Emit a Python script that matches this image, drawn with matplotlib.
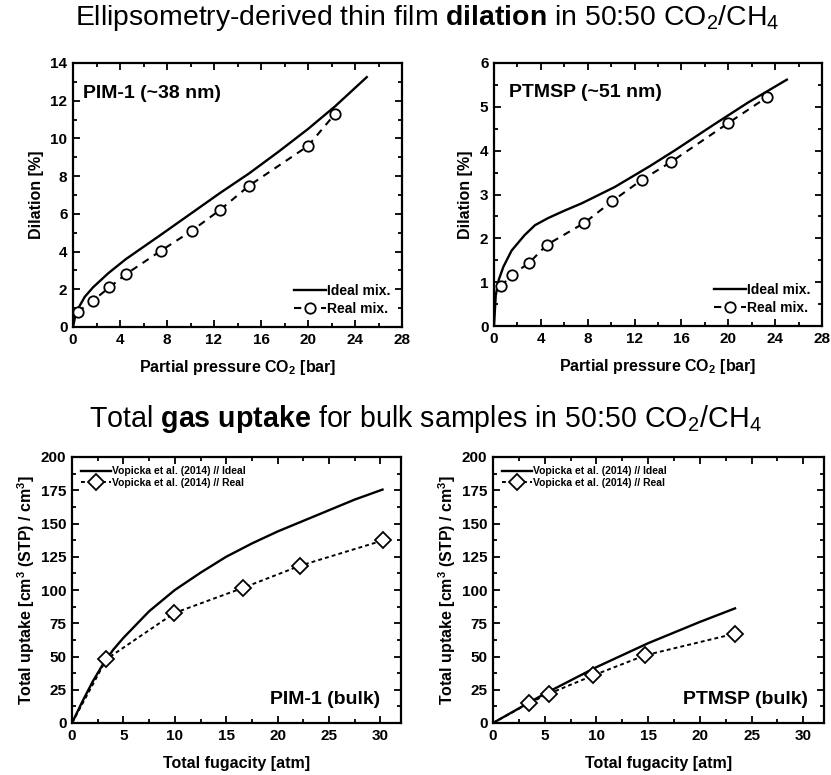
import matplotlib
matplotlib.use('Agg')
import matplotlib.pyplot as plt
from matplotlib.ticker import MultipleLocator

plt.rcParams['font.family'] = ['Liberation Sans', 'DejaVu Sans']
plt.rcParams['mathtext.fontset'] = 'custom'
plt.rcParams['mathtext.rm'] = 'Liberation Sans'
plt.rcParams['mathtext.bf'] = 'Liberation Sans:bold'
plt.rcParams['mathtext.it'] = 'Liberation Sans:italic'

# PIM-1 thin film (~38 nm)
pim_ideal_x = [0, 0.2, 0.5, 1, 1.7, 3, 4.5, 7.5, 10, 12.5, 15, 17.5, 20, 22.3, 25]
pim_ideal_y = [0, 0.6, 1.05, 1.6, 2.1, 2.85, 3.6, 4.9, 6.0, 7.1, 8.15, 9.3, 10.5, 11.7, 13.25]
pim_real_x = [0.4, 1.7, 3.1, 4.5, 7.5, 10.1, 12.5, 15.0, 20.0, 22.3]
pim_real_y = [0.8, 1.4, 2.1, 2.8, 4.05, 5.1, 6.2, 7.5, 9.6, 11.3]

# PTMSP thin film (~51 nm)
ptmsp_ideal_x = [0, 0.15, 0.4, 0.8, 1.5, 2.6, 3.5, 4.6, 6, 7.5, 10.3, 13.2, 15.4, 18.8, 21.7, 25]
ptmsp_ideal_y = [0, 0.7, 1.05, 1.35, 1.72, 2.07, 2.3, 2.46, 2.63, 2.8, 3.17, 3.63, 4.0, 4.6, 5.1, 5.62]
ptmsp_real_x = [0.6, 1.5, 3.0, 4.5, 7.7, 10.1, 12.6, 15.1, 20.0, 23.3]
ptmsp_real_y = [0.91, 1.16, 1.44, 1.85, 2.35, 2.85, 3.33, 3.74, 4.63, 5.22]

# bulk uptake, PIM-1
pim_bulk_ideal_x = [0, 1, 2, 3, 4, 5, 7.5, 10, 12.5, 15, 17.5, 20, 22.5, 25, 27.5, 30.2]
pim_bulk_ideal_y = [0, 16, 31, 44, 55, 64, 84, 100, 113, 125, 135, 144, 152, 160, 168, 175.5]
pim_bulk_real_x = [0, 3.35, 9.96, 16.6, 22.2, 30.26]
pim_bulk_real_y = [0, 48, 82.7, 101.5, 118.3, 137.3]

# bulk uptake, PTMSP
ptmsp_bulk_ideal_x = [0, 2.5, 5, 7.5, 10, 12.5, 15, 17.5, 20, 23.4]
ptmsp_bulk_ideal_y = [0, 11, 22, 32, 42, 51, 60, 68, 76, 86.2]
ptmsp_bulk_real_x = [0, 3.5, 5.4, 9.7, 14.7, 23.4]
ptmsp_bulk_real_y = [0, 15, 22, 35.8, 50.9, 67.2]

W, H = 831, 775
fig = plt.figure(figsize=(W / 100, H / 100), dpi=100)


def make_ax(l, r, t, b):
    return fig.add_axes([l / W, 1 - b / H, (r - l) / W, (b - t) / H])


def style(ax, xmaj, ymaj):
    ax.xaxis.set_major_locator(MultipleLocator(xmaj))
    ax.xaxis.set_minor_locator(MultipleLocator(xmaj / 2))
    ax.yaxis.set_major_locator(MultipleLocator(ymaj))
    ax.yaxis.set_minor_locator(MultipleLocator(ymaj / 2))
    ax.tick_params(which='both', direction='in', top=True, right=True, width=1.3)
    ax.tick_params(which='major', length=5, labelsize=11, pad=4)
    ax.tick_params(which='minor', length=3)
    for lab in ax.get_xticklabels() + ax.get_yticklabels():
        lab.set_fontweight('bold')
    for s in ax.spines.values():
        s.set_linewidth(1.6)


def film_panel(ax, ix, iy, rx, ry, label, ymax, ymaj, tx):
    ax.plot(ix, iy, '-', color='black', lw=1.7, label='Ideal mix.')
    ax.plot(rx, ry, '--', color='black', lw=1.5, dashes=(3.5, 3),
            marker='o', ms=7.5, mfc='white', mec='black', mew=1.3, label='Real mix.')
    ax.set_xlim(0, 28)
    ax.set_ylim(0, ymax)
    style(ax, 4, ymaj)
    ax.set_xlabel('Partial pressure CO$_\\mathbf{2}$ [bar]', fontsize=11.5, fontweight='bold', labelpad=8.5)
    ax.set_ylabel('Dilation [%]', fontsize=11.5, fontweight='bold', labelpad=5)
    ax.text(tx, 0.886, label, transform=ax.transAxes, fontsize=14, fontweight='bold', va='center')
    ax.legend(loc='lower right', frameon=False, handlelength=2.3, handletextpad=0.1,
              labelspacing=0.3, borderaxespad=0.4, prop={'weight': 'bold', 'size': 10})


def bulk_panel(ax, ix, iy, rx, ry, label, tx):
    ax.plot(ix, iy, '-', color='black', lw=1.7, label='Vopicka et al. (2014) // Ideal')
    ax.plot(rx, ry, '--', color='black', lw=1.4, dashes=(2, 1.6),
            marker='D', ms=8, mfc='white', mec='black', mew=1.3,
            markevery=list(range(1, len(rx))), label='Vopicka et al. (2014) // Real')
    ax.set_xlim(0, 32)
    ax.set_ylim(0, 200)
    style(ax, 5, 25)
    ax.set_xlabel('Total fugacity [atm]', fontsize=11.5, fontweight='bold', labelpad=10)
    ax.set_ylabel('Total uptake [cm$^\\mathbf{3}$ (STP) / cm$^\\mathbf{3}$]', fontsize=11.5,
                  fontweight='bold', labelpad=3)
    ax.text(tx, 0.088, label, transform=ax.transAxes, fontsize=14, fontweight='bold',
            ha='right', va='center')
    ax.legend(loc='upper left', frameon=False, handlelength=2.8, handletextpad=0.1,
              labelspacing=0.15, borderaxespad=0.5, prop={'weight': 'bold', 'size': 7.5})


ax1 = make_ax(73, 402, 63, 327)
film_panel(ax1, pim_ideal_x, pim_ideal_y, pim_real_x, pim_real_y, 'PIM-1 (~38 nm)', 14, 2, 0.03)
ax2 = make_ax(494, 822, 63, 326)
film_panel(ax2, ptmsp_ideal_x, ptmsp_ideal_y, ptmsp_real_x, ptmsp_real_y, 'PTMSP (~51 nm)', 6, 1, 0.046)
ax3 = make_ax(72, 401, 457, 723)
bulk_panel(ax3, pim_bulk_ideal_x, pim_bulk_ideal_y, pim_bulk_real_x, pim_bulk_real_y, 'PIM-1 (bulk)', 0.936)
ax4 = make_ax(493, 824, 457, 723)
bulk_panel(ax4, ptmsp_bulk_ideal_x, ptmsp_bulk_ideal_y, ptmsp_bulk_real_x, ptmsp_bulk_real_y, 'PTMSP (bulk)', 0.952)

fig.text(427.5 / W, 1 - 25 / H, 'Ellipsometry-derived thin film $\\mathbf{dilation}$ in 50:50 CO$_2$/CH$_4$',
         ha='center', va='baseline', fontsize=20.4)
fig.text(425 / W, 1 - 427 / H, 'Total $\\mathbf{gas\\ uptake}$ for bulk samples in 50:50 CO$_2$/CH$_4$',
         ha='center', va='baseline', fontsize=20.6)

fig.savefig('out.png', dpi=100)
